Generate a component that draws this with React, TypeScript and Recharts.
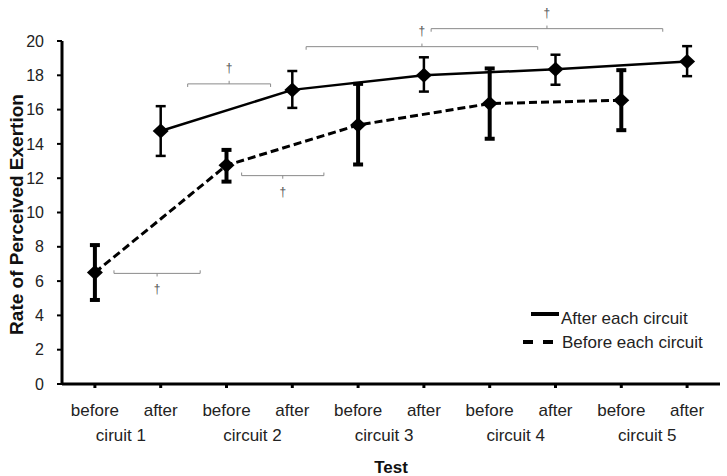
import React from 'react';
import {
  LineChart, Line, XAxis, YAxis, ErrorBar, ReferenceLine, ReferenceDot, Legend, Label,
} from 'recharts';

// x axis: test order
const testLabels = ['before', 'after', 'before', 'after', 'before', 'after', 'before', 'after', 'before', 'after'];
const circuitLabels = ['ciruit 1', 'circuit 2', 'circuit 3', 'circuit 4', 'circuit 5'];
const yTicks = [0, 2, 4, 6, 8, 10, 12, 14, 16, 18, 20];

// before each circuit (dashed)
const beforeIdx = [0, 2, 4, 6, 8];
const beforeMean = [6.5, 12.75, 15.1, 16.35, 16.55];
const beforeLow = [4.9, 11.8, 12.8, 14.3, 14.8];
const beforeHigh = [8.1, 13.65, 17.5, 18.4, 18.3];

// after each circuit (solid)
const afterIdx = [1, 3, 5, 7, 9];
const afterMean = [14.75, 17.15, 18.0, 18.35, 18.8];
const afterLow = [13.3, 16.1, 17.05, 17.45, 17.95];
const afterHigh = [16.2, 18.25, 19.05, 19.2, 19.7];

// significance brackets (†)
const bracketFrom = [0.29, 1.41, 2.23, 3.21, 5.11];
const bracketTo = [1.6, 2.67, 3.48, 6.73, 8.63];
const bracketY = [6.45, 17.5, 12.15, 19.67, 20.72];
const bracketSide = [-1, 1, -1, 1, 1]; // 1 = dagger above, -1 = dagger below

const build = (idx: number[], mean: number[], low: number[], high: number[]) =>
  idx.map((x, i) => ({ x, rpe: mean[i], err: [mean[i] - low[i], high[i] - mean[i]] }));

const beforeData = build(beforeIdx, beforeMean, beforeLow, beforeHigh);
const afterData = build(afterIdx, afterMean, afterLow, afterHigh);

const FONT = '"Liberation Sans", Arial, sans-serif';
const GREY = '#8a8a8a';

const Diamond = (props: any) => {
  const { cx, cy } = props;
  if (cx == null || cy == null) return null;
  return <path d={`M${cx},${cy - 7.5}L${cx + 8},${cy}L${cx},${cy + 7.5}L${cx - 8},${cy}Z`} fill="#000" />;
};

const TestTick = (props: any) => {
  const { x, y, payload } = props;
  const i = payload.value as number;
  return (
    <g>
      <text x={x} y={y + 28} textAnchor="middle" fontSize={17} fill="#222" fontFamily={FONT}>
        {testLabels[i]}
      </text>
      {i % 2 === 0 && (
        <text x={x + 26} y={y + 53} textAnchor="middle" fontSize={17} fill="#222" fontFamily={FONT}>
          {circuitLabels[i / 2]}
        </text>
      )}
    </g>
  );
};

const Dagger = (p: any) => {
  const vb = p.viewBox || {};
  const x = (vb.x ?? 0) + (vb.width ?? 0) / 2;
  const y = (vb.y ?? 0) + (vb.height ?? 0) / 2;
  return (
    <text x={x} y={y + 4} textAnchor="middle" fontSize={12} fill="#555" opacity={0.99} fontFamily={FONT}>
      †
    </text>
  );
};

const LegendBox = () => (
  <svg width={200} height={50} style={{ overflow: 'visible' }}>
    <line x1={11} y1={11} x2={39} y2={11} stroke="#000" strokeWidth={4} />
    <text x={41} y={21} fontSize={17} fill="#222" fontFamily={FONT}>After each circuit</text>
    <line x1={3} y1={39} x2={33} y2={39} stroke="#000" strokeWidth={4} strokeDasharray="10 10" />
    <text x={42} y={45} fontSize={17} fill="#222" fontFamily={FONT}>Before each circuit</text>
  </svg>
);

function brackets() {
  const out: React.ReactNode[] = [];
  bracketFrom.forEach((from, i) => {
    const to = bracketTo[i];
    const y = bracketY[i];
    const s = bracketSide[i];
    const mid = (from + to) / 2;
    const seg = (x1: number, y1: number, x2: number, y2: number, k: string) => (
      <ReferenceLine
        key={`b${i}${k}`}
        segment={[{ x: x1, y: y1 }, { x: x2, y: y2 }]}
        stroke={GREY}
        strokeWidth={1}
        ifOverflow="visible"
      />
    );
    out.push(seg(from, y, to, y, 'h'));
    out.push(seg(from, y, from, y - s * 0.18, 'l'));
    out.push(seg(to, y, to, y - s * 0.18, 'r'));
    out.push(seg(mid, y, mid, y + s * 0.18, 'm'));
    out.push(
      <ReferenceDot
        key={`d${i}`}
        x={mid}
        y={y + s * 0.93}
        r={0}
        fill="none"
        stroke="none"
        ifOverflow="visible"
        label={<Label content={Dagger} />}
      />
    );
  });
  return out;
}

export default function App() {
  return (
    <div style={{ position: 'absolute', left: 0, top: 0, fontFamily: FONT }}>
      <LineChart width={727} height={476} margin={{ top: 41, right: 7, left: 22, bottom: 0 }}>
        <XAxis
          dataKey="x"
          type="number"
          domain={[-0.5, 9.5]}
          ticks={testLabels.map((_, i) => i)}
          tick={<TestTick />}
          tickSize={4}
          tickMargin={0}
          height={92}
          axisLine={{ stroke: '#000', strokeWidth: 3 }}
          tickLine={{ stroke: '#000', strokeWidth: 3 }}
          interval={0}
        >
          <Label
            content={(p: any) => (
              <text
                x={p.viewBox.x + p.viewBox.width / 2}
                y={p.viewBox.y + 89}
                textAnchor="middle"
                fontSize={17}
                fontWeight="bold"
                fill="#111"
                fontFamily={FONT}
              >
                Test
              </text>
            )}
          />
        </XAxis>
        <YAxis
          type="number"
          domain={[0, 20]}
          ticks={yTicks}
          width={40}
          tickSize={5}
          tickMargin={13}
          tick={{ fontSize: 16, fill: '#222', fontFamily: FONT }}
          axisLine={{ stroke: '#000', strokeWidth: 3 }}
          tickLine={{ stroke: '#000', strokeWidth: 2 }}
          interval={0}
        >
          <Label
            content={(p: any) => {
              const cx = p.viewBox.x + 1;
              const cy = p.viewBox.y + p.viewBox.height / 2 + 2;
              return (
                <text
                  x={cx}
                  y={cy}
                  transform={`rotate(-90 ${cx} ${cy})`}
                  textAnchor="middle"
                  fontSize={19}
                  fontWeight="bold"
                  fill="#111"
                  fontFamily={FONT}
                >
                  Rate of Perceived Exertion
                </text>
              );
            }}
          />
        </YAxis>
        {brackets()}
        <Line
          data={afterData}
          dataKey="rpe"
          type="linear"
          stroke="#000"
          strokeWidth={2.5}
          dot={<Diamond />}
          activeDot={false}
          isAnimationActive={false}
        >
          <ErrorBar dataKey="err" direction="y" width={5} stroke="#000" strokeWidth={2.5} isAnimationActive={false} />
        </Line>
        <Line
          data={beforeData}
          dataKey="rpe"
          type="linear"
          stroke="#000"
          strokeWidth={3}
          strokeDasharray="8 4"
          dot={<Diamond />}
          activeDot={false}
          isAnimationActive={false}
        >
          <ErrorBar dataKey="err" direction="y" width={5} stroke="#000" strokeWidth={4} isAnimationActive={false} />
        </Line>
        <Legend
          verticalAlign="middle"
          align="center"
          layout="horizontal"
          wrapperStyle={{ left: 520, top: 303, width: 200, height: 50 }}
          content={() => <LegendBox />}
        />
      </LineChart>
    </div>
  );
}
